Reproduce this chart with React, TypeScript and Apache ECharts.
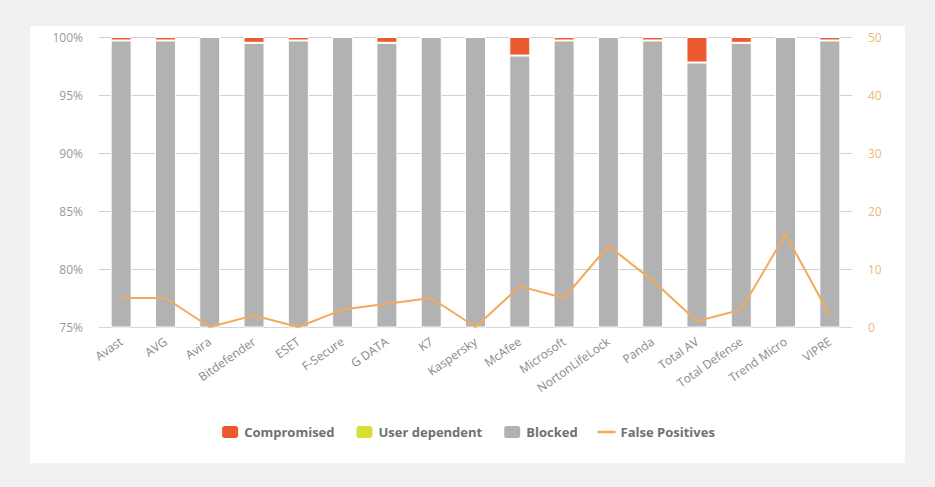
import React, { useEffect, useRef } from "react";
import * as echarts from "echarts";

const categories = [
  "Avast", "AVG", "Avira", "Bitdefender", "ESET", "F-Secure", "G DATA", "K7",
  "Kaspersky", "McAfee", "Microsoft", "NortonLifeLock", "Panda", "Total AV",
  "Total Defense", "Trend Micro", "VIPRE",
];
const compromised = [0.3, 0.3, 0, 0.5, 0.3, 0, 0.5, 0, 0, 1.6, 0.3, 0, 0.3, 2.2, 0.5, 0, 0.3];
const userDependent = [0, 0, 0, 0, 0, 0, 0, 0, 0, 0, 0, 0, 0, 0, 0, 0, 0];
const blocked = [99.7, 99.7, 100, 99.5, 99.7, 100, 99.5, 100, 100, 98.4, 99.7, 100, 99.7, 97.8, 99.5, 100, 99.7];
const falsePositives = [5, 5, 0, 2, 0, 3, 4, 5, 0, 7, 5, 14, 8, 1, 3, 16, 2];

const FONT = "'Open Sans', sans-serif";

export default function App() {
  const ref = useRef<HTMLDivElement>(null);
  useEffect(() => {
    document.body.style.margin = "0";
    const chart = echarts.init(ref.current!, null, { renderer: "svg" });
    chart.setOption({
      animation: false,
      textStyle: { fontFamily: FONT },
      grid: { left: 99, right: 83, top: 37, bottom: 160, containLabel: false },
      legend: {
        bottom: 42,
        left: "center",
        itemWidth: 18,
        itemHeight: 14,
        itemGap: 20,
        symbolKeepAspect: true,
        textStyle: { fontFamily: FONT, fontSize: 13, fontWeight: "bold", color: "#707070" },
        data: [
          "Compromised",
          "User dependent",
          "Blocked",
          { name: "False Positives", icon: "path://M0,0 L14,0 L14,2 L0,2 Z" },
        ],
      },
      xAxis: {
        type: "category",
        data: categories,
        axisLine: { lineStyle: { color: "#ccd6eb" } },
        axisTick: { show: false },
        axisLabel: { rotate: 35, color: "#888", fontSize: 12, fontFamily: FONT, margin: 13 },
      },
      yAxis: [
        {
          type: "value",
          min: 75,
          max: 100,
          interval: 5,
          axisLabel: { formatter: "{value}%", color: "#999", fontSize: 12, fontFamily: FONT, margin: 16 },
          splitLine: { lineStyle: { color: "#d0d0d0" } },
          axisLine: { show: false },
          axisTick: { show: false },
        },
        {
          type: "value",
          min: 0,
          max: 50,
          interval: 10,
          axisLabel: { color: "#f0b77a", fontSize: 12, fontFamily: FONT, margin: 16 },
          splitLine: { show: false },
          axisLine: { show: false },
          axisTick: { show: false },
        },
      ],
      series: [
        {
          name: "Blocked",
          type: "bar",
          stack: "s",
          data: blocked,
          barWidth: 21,
          itemStyle: { color: "#b2b2b2", borderColor: "#fff", borderWidth: 1 },
        },
        {
          name: "User dependent",
          type: "bar",
          stack: "s",
          data: userDependent,
          barWidth: 21,
          itemStyle: { color: "#d7df35", borderColor: "#fff", borderWidth: 1 },
        },
        {
          name: "Compromised",
          type: "bar",
          stack: "s",
          data: compromised,
          barWidth: 21,
          itemStyle: { color: "#ec5a30", borderColor: "#fff", borderWidth: 1 },
        },
        {
          name: "False Positives",
          type: "line",
          yAxisIndex: 1,
          data: falsePositives,
          symbol: "none",
          lineStyle: { color: "#f5a95a", width: 2 },
          itemStyle: { color: "#f5a95a" },
        },
      ],
    });
    return () => chart.dispose();
  }, []);
  return (
    <div style={{ position: "relative", width: 935, height: 487, background: "#f1f1f1" }}>
      <div style={{ position: "absolute", left: 30, top: 26, width: 875, height: 437, background: "#fff" }} />
      <div ref={ref} style={{ position: "absolute", left: 0, top: 0, width: 935, height: 487 }} />
    </div>
  );
}
